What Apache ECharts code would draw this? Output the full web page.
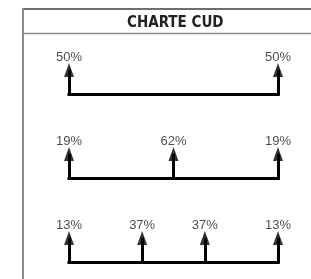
<!DOCTYPE html>
<html>
<head>
<meta charset="utf-8">
<script src="https://cdn.jsdelivr.net/npm/echarts@6/dist/echarts.min.js"></script>
<style>
  html, body { margin: 0; padding: 0; background: #fff; }
  #chart { width: 311px; height: 279px; }
</style>
</head>
<body>
<div id="chart"></div>
<script>
// shares per row (percent)
const row1Values = [50, 50];
const row2Values = [19, 62, 19];
const row3Values = [13, 37, 37, 13];
// position of each arrow along the bracket (0 = left end, 1 = right end)
const row1Pos = [0, 1];
const row2Pos = [0, 0.5, 1];
const row3Pos = [0, 0.35, 0.65, 1];
// vertical level of each bracket
const rowLevels = [1, 2, 3];

const rows = [
  { values: row1Values, pos: row1Pos },
  { values: row2Values, pos: row2Pos },
  { values: row3Values, pos: row3Pos },
];

const ARROW_LEN = 0.37;
const STEM_OVERLAP = 0.1;

const segments = [];
const heads = [];
rows.forEach((row, i) => {
  const base = rowLevels[i];
  const tip = base - ARROW_LEN;
  segments.push({ coords: [[row.pos[0], base], [row.pos[row.pos.length - 1], base]] });
  row.pos.forEach((x, j) => {
    segments.push({ coords: [[x, base], [x, tip + STEM_OVERLAP]] });
    heads.push([x, tip, row.values[j]]);
  });
});

const chart = echarts.init(document.getElementById('chart'));

chart.setOption({
  animation: false,
  title: {
    text: 'CHARTE CUD',
    left: 122,
    top: 11,
    textStyle: {
      fontFamily: 'DejaVu Sans Condensed',
      fontWeight: 'bold',
      fontSize: 15,
      color: '#222',
    },
  },
  graphic: [
    { type: 'line', shape: { x1: 23, y1: 9, x2: 311, y2: 9 }, style: { stroke: '#6e6e6e', lineWidth: 2 } },
    { type: 'line', shape: { x1: 23, y1: 33.5, x2: 311, y2: 33.5 }, style: { stroke: '#8a8a8a', lineWidth: 1.5 } },
    { type: 'line', shape: { x1: 23, y1: 8, x2: 23, y2: 279 }, style: { stroke: '#8a8a8a', lineWidth: 2 } },
  ],
  grid: {
    left: 69,
    right: 33,
    top: 10,
    height: 252,
  },
  xAxis: { type: 'value', min: 0, max: 1, show: false },
  yAxis: { type: 'value', min: 0, max: 3, inverse: true, show: false },
  series: [
    {
      type: 'lines',
      coordinateSystem: 'cartesian2d',
      clip: false,
      silent: true,
      lineStyle: { color: '#000', width: 3, opacity: 1, cap: 'square', curveness: 0 },
      data: segments,
    },
    {
      type: 'scatter',
      clip: false,
      silent: true,
      symbol: 'triangle',
      symbolSize: [10, 14],
      symbolOffset: [0, 7],
      itemStyle: { color: '#000' },
      label: {
        show: true,
        position: 'top',
        distance: -1,
        formatter: (p) => p.value[2] + '%',
        fontFamily: 'Liberation Sans',
        fontSize: 13,
        color: '#222',
      },
      data: heads,
    },
  ],
});
</script>
</body>
</html>
